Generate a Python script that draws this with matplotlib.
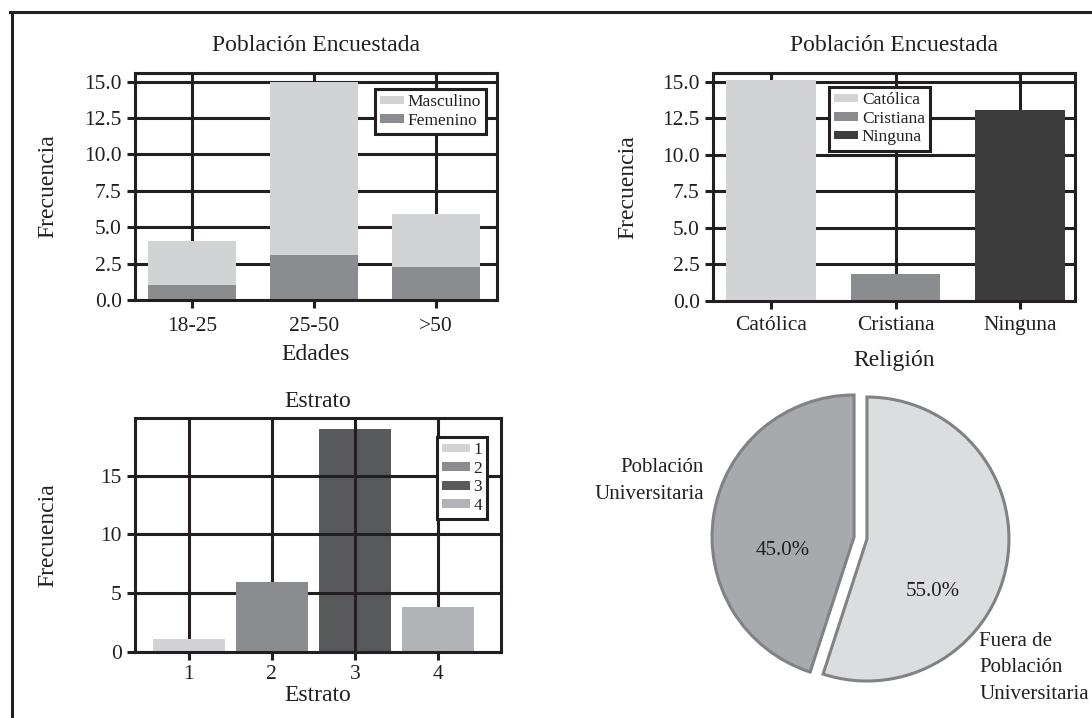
import numpy as np
from matplotlib import pyplot as plt
from matplotlib.lines import Line2D

# data
edades = ["18-25", "25-50", ">50"]
femenino = [1.05, 3.1, 2.3]
masculino = [3.0, 11.9, 3.6]

religiones = ["Católica", "Cristiana", "Ninguna"]
religion_freq = [15.1, 1.8, 13.05]

estratos = ["1", "2", "3", "4"]
estrato_freq = [1.08, 5.94, 18.99, 3.81]

poblacion_labels = ["Población\nUniversitaria", "Fuera de\nPoblación\nUniversitaria"]
poblacion_pct = [45, 55]

ink = "#231f20"
plt.rcParams.update({
    "font.family": ["Liberation Serif", "DejaVu Serif"],
    "text.color": ink,
    "axes.labelcolor": ink,
    "xtick.color": ink,
    "ytick.color": ink,
    "axes.edgecolor": ink,
    "axes.linewidth": 2.2,
    "axes.axisbelow": True,
    "grid.color": ink,
    "grid.linewidth": 2.2,
    "xtick.major.width": 2.2,
    "ytick.major.width": 2.2,
    "xtick.major.size": 6,
    "ytick.major.size": 6,
    "xtick.labelsize": 15.5,
    "ytick.labelsize": 15.5,
    "axes.titlesize": 17,
    "axes.labelsize": 17,
    "legend.fontsize": 12.5,
    "legend.fancybox": False,
    "legend.framealpha": 1,
    "legend.edgecolor": ink,
    "legend.handlelength": 1.4,
    "legend.handleheight": 0.4,
    "legend.handletextpad": 0.2,
    "legend.labelspacing": 0.15,
    "legend.borderpad": 0.3,
    "legend.borderaxespad": 0,
})

W, H = 1092, 718
fig = plt.figure(figsize=(W / 100, H / 100), dpi=100)


def box(left, top, right, bottom):
    return [left / W, 1 - bottom / H, (right - left) / W, (bottom - top) / H]


# --- Edades ---
ax1 = fig.add_axes(box(135, 73, 497, 300))
x = np.arange(len(edades))
b_fem = ax1.bar(x, femenino, 0.72, color="#8b8c8f", label="Femenino")
b_masc = ax1.bar(x, masculino, 0.72, bottom=femenino, color="#d1d3d4", label="Masculino")
ax1.set_xlim(-0.47, 2.5)
ax1.set_ylim(0, 15.6)
ax1.set_yticks(np.arange(0, 15.1, 2.5))
ax1.set_yticklabels([f"{v:.1f}" for v in np.arange(0, 15.1, 2.5)])
ax1.set_xticks(x)
ax1.set_xticklabels(edades)
ax1.tick_params(axis="x", pad=6.5)
ax1.grid(True)
ax1.set_title("Población Encuestada", pad=16)
ax1.set_xlabel("Edades")
ax1.set_ylabel("Frecuencia")
ax1.yaxis.set_label_coords(-0.213, 0.5)
ax1.xaxis.set_label_coords(0.5, -0.194)
leg = ax1.legend([b_masc, b_fem], ["Masculino", "Femenino"], loc="upper right",
                 bbox_to_anchor=(0.97, 0.93))
leg.get_frame().set_linewidth(2.2)

# --- Religion ---
ax2 = fig.add_axes(box(713, 73, 1075, 300.7))
x = np.arange(len(religiones))
ax2.bar(x, religion_freq, 0.72, color=["#d1d3d4", "#8b8c8f", "#3c3c3d"], label=religiones)
ax2.set_xlim(-0.466, 2.44)
ax2.set_ylim(0, 15.6)
ax2.set_yticks(np.arange(0, 15.1, 2.5))
ax2.set_yticklabels([f"{v:.1f}" for v in np.arange(0, 15.1, 2.5)])
ax2.set_xticks(x)
ax2.set_xticklabels(religiones)
ax2.tick_params(axis="x", pad=5)
ax2.grid(True)
ax2.set_title("Población Encuestada", pad=16)
ax2.set_xlabel("Religión")
ax2.set_ylabel("Frecuencia")
ax2.yaxis.set_label_coords(-0.205, 0.5)
ax2.xaxis.set_label_coords(0.5, -0.215)
leg = ax2.legend(loc="upper left", bbox_to_anchor=(0.32, 0.939))
leg.get_frame().set_linewidth(2.2)

# --- Estrato ---
ax3 = fig.add_axes(box(135, 418, 501, 652))
x = np.arange(1, len(estratos) + 1)
bars = ax3.bar(x, estrato_freq, 0.87, color=["#d1d3d4", "#8b8c8f", "#58595b", "#b1b3b6"],
               label=estratos)
bars[2].set_zorder(0.3)
ax3.set_xlim(0.353, 4.76)
ax3.set_ylim(0, 19.9)
ax3.set_yticks([0, 5, 10, 15])
ax3.set_xticks(x)
ax3.set_xticklabels(estratos)
ax3.tick_params(axis="x", pad=3.5)
ax3.grid(True)
ax3.set_title("Estrato", pad=8)
ax3.set_xlabel("Estrato")
ax3.set_ylabel("Frecuencia")
ax3.yaxis.set_label_coords(-0.21, 0.5)
ax3.xaxis.set_label_coords(0.5, -0.141)
leg = ax3.legend(loc="upper right", bbox_to_anchor=(0.962, 0.919), handlelength=1.6)
leg.get_frame().set_linewidth(2.2)

# --- Pie ---
r = 142
ax4 = fig.add_axes(box(860.5 - 180, 538 - 180, 860.5 + 180, 538 + 180))
wedges, texts, autotexts = ax4.pie(
    poblacion_pct, labels=poblacion_labels, colors=["#a7a9ac", "#dcdddf"],
    explode=[0.046, 0.046], startangle=90, autopct="%1.1f%%",
    wedgeprops={"edgecolor": "#808285", "linewidth": 2.2},
    textprops={"fontsize": 15, "color": ink})
ax4.set_xlim(-180 / r, 180 / r)
ax4.set_ylim(-180 / r, 180 / r)
ax4.set_aspect("equal")
ax4.axis("off")
texts[0].set_position((-1.102, 0.401))
texts[0].set_ha("right")
texts[0].set_va("center")
texts[1].set_position((0.838, -0.915))
texts[1].set_ha("left")
texts[1].set_va("center")
for t in texts:
    t.set_linespacing(1.55)
autotexts[0].set_position((-0.546, -0.085))
autotexts[1].set_position((0.507, -0.380))

# page frame
fig.add_artist(Line2D([10 / W, 1], [1 - 12 / H, 1 - 12 / H], color=ink, lw=2.2,
                      transform=fig.transFigure))
fig.add_artist(Line2D([12 / W, 12 / W], [1 - 12 / H, 0], color=ink, lw=2.2,
                      transform=fig.transFigure))

fig.savefig("out.png", dpi=100, facecolor="white")
